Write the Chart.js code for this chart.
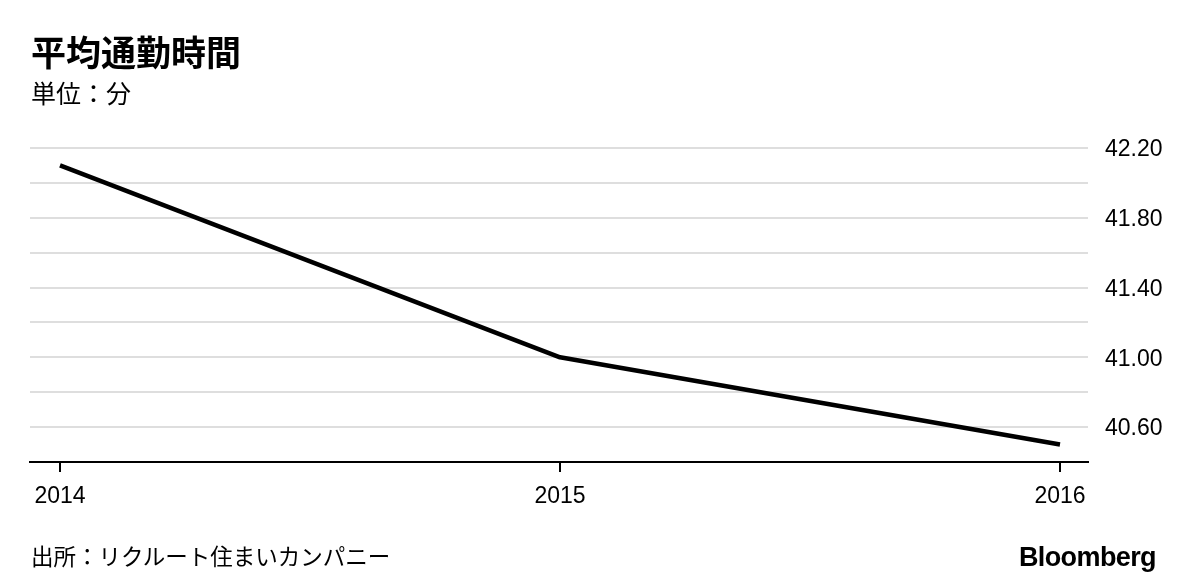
<!DOCTYPE html>
<html>
<head>
<meta charset="utf-8">
<script src="https://cdn.jsdelivr.net/npm/chart.js@4"></script>
<style>
  html, body { margin: 0; padding: 0; background: #fff; }
  #wrap { position: relative; width: 1200px; height: 587px; overflow: hidden; }
  .txt { position: absolute; line-height: 1; color: #000; white-space: nowrap; }
  #title { left: 31px; top: 25px; font: bold 35px "Noto Sans CJK JP", sans-serif; }
  #subtitle { left: 31px; top: 74px; font: 25px "Noto Sans CJK JP", sans-serif; }
  #source { left: 31px; top: 539px; font: 22.5px "Noto Sans CJK JP", sans-serif; }
  #logo { right: 44px; top: 542px; font: bold 27px "Liberation Sans", Arial, sans-serif; letter-spacing: -0.6px; }
  #chartBox { position: absolute; left: 0; top: 0; width: 1200px; height: 587px; }
</style>
</head>
<body>
<div id="wrap">
  <div id="chartBox"><canvas id="myChart"></canvas></div>
  <div class="txt" id="title">平均通勤時間</div>
  <div class="txt" id="subtitle">単位：分</div>
  <div class="txt" id="source">出所：リクルート住まいカンパニー</div>
  <div class="txt" id="logo">Bloomberg</div>
</div>
<script>
// data
const years = [2014, 2015, 2016];
const commuteMinutes = [42.10, 41.00, 40.50];
const yTickLabels = ['40.60', '41.00', '41.40', '41.80', '42.20'];

const numFont = { family: '"Liberation Sans", Arial, sans-serif', size: 23 };

const ctx = document.getElementById('myChart').getContext('2d');
const myChart = new Chart(ctx, {
  type: 'line',
  data: {
    datasets: [{
      label: '平均通勤時間',
      data: years.map((y, i) => ({ x: y, y: commuteMinutes[i] })),
      borderColor: '#000',
      borderWidth: 4.5,
      pointRadius: 0,
      tension: 0,
      borderJoinStyle: 'round',
      clip: false
    }]
  },
  options: {
    responsive: true,
    maintainAspectRatio: false,
    animation: false,
    layout: { padding: { left: 30, top: 148, right: 0, bottom: 75 } },
    plugins: { legend: { display: false }, tooltip: { enabled: false } },
    scales: {
      x: {
        type: 'linear',
        min: 2013.94,
        max: 2016.056,
        afterBuildTicks: (scale) => { scale.ticks = years.map(v => ({ value: v })); },
        afterFit: (scale) => { scale.height = 50; },
        grid: { drawOnChartArea: false, drawTicks: true, tickLength: 10, color: '#000', lineWidth: 2 },
        border: { display: true, color: '#000', width: 2 },
        ticks: {
          color: '#000',
          font: numFont,
          padding: 11,
          maxRotation: 0,
          callback: (v) => String(v)
        }
      },
      y: {
        position: 'right',
        min: 40.4,
        max: 42.2,
        afterFit: (scale) => { scale.width = 112; },
        grid: {
          drawTicks: false,
          lineWidth: 2,
          color: (c) => (Math.abs(c.tick.value - 40.4) < 1e-6 ? 'rgba(0,0,0,0)' : '#dedede')
        },
        border: { display: false },
        ticks: {
          stepSize: 0.2,
          color: '#000',
          font: numFont,
          padding: 17,
          labelOffset: 2,
          callback: (v) => {
            const s = Number(v).toFixed(2);
            return yTickLabels.includes(s) ? s : '';
          }
        }
      }
    }
  }
});
</script>
</body>
</html>
